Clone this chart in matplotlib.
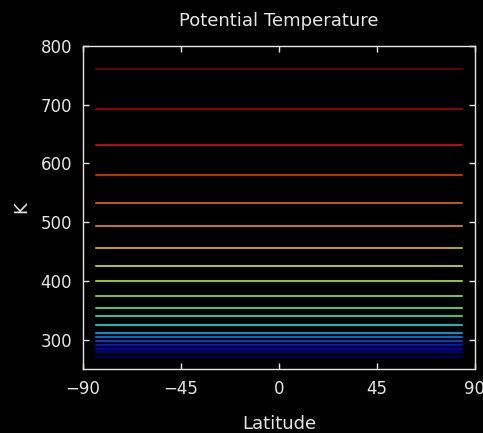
import matplotlib
matplotlib.use("Agg")
import matplotlib.pyplot as plt
import numpy as np

# Latitude span of the data and potential temperature on each level (K)
lat = [-84.0, 84.0]
theta = [270, 278, 284, 290, 297.5, 305, 312, 325, 340, 354,
         374, 399, 426, 456, 493, 532, 580, 631, 693, 760]

xticks = [-90, -45, 0, 45, 90]
yticks = [300, 400, 500, 600, 700, 800]

fg = '#e6e6e6'
plt.rcParams['font.family'] = ['DejaVu Sans']

fig = plt.figure(figsize=(4.83, 4.33), dpi=100, facecolor='black')
ax = fig.add_axes([0.172, 0.148, 0.811, 0.746], facecolor='black')

# One line per level, coloured along the jet map by level index
cmap = plt.get_cmap('jet')
n = len(theta)
for i, t in enumerate(theta):
    ax.plot(lat, [t, t], color=cmap(i / (n - 1)), linewidth=1.1)

ax.set_xlim(-90, 90)
ax.set_ylim(250, 800)
ax.set_xticks(xticks)
ax.set_yticks(yticks)

for s in ax.spines.values():
    s.set_color(fg)
    s.set_linewidth(1.0)
ax.tick_params(direction='in', colors=fg, length=4, width=1,
               top=True, right=True, labelsize=12, pad=8)

ax.set_title('Potential Temperature', color=fg, fontsize=13, pad=14)
ax.set_xlabel('Latitude', color=fg, fontsize=13, labelpad=12)
ax.set_ylabel('K', color=fg, fontsize=13, labelpad=7)

fig.savefig('out.png', dpi=100, facecolor='black')
